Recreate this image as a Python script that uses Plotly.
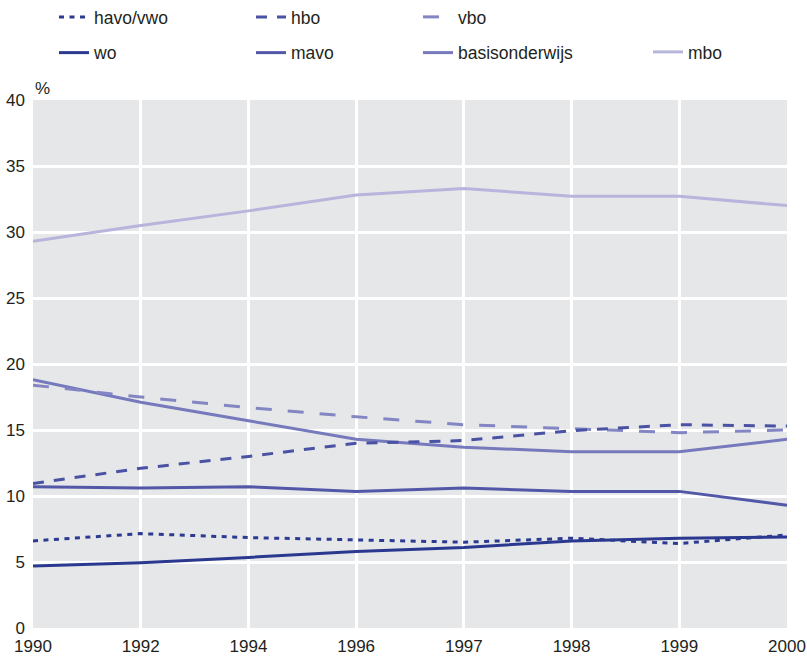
import plotly.graph_objects as go

years = ["1990", "1992", "1994", "1996", "1997", "1998", "1999", "2000"]

havo_vwo = [6.6, 7.15, 6.85, 6.65, 6.5, 6.8, 6.4, 7.05]
wo = [4.7, 4.95, 5.35, 5.8, 6.1, 6.6, 6.8, 6.9]
hbo = [10.95, 12.1, 13.0, 14.0, 14.2, 14.95, 15.4, 15.3]
mavo = [10.7, 10.6, 10.7, 10.35, 10.6, 10.35, 10.35, 9.3]
vbo = [18.4, 17.5, 16.7, 16.0, 15.4, 15.1, 14.8, 15.0]
basisonderwijs = [18.8, 17.1, 15.7, 14.3, 13.7, 13.35, 13.35, 14.3]
mbo = [29.3, 30.5, 31.6, 32.8, 33.3, 32.7, 32.7, 32.0]

y_ticks = [0, 5, 10, 15, 20, 25, 30, 35, 40]

FONT = "Liberation Sans, Arial, sans-serif"
TXT = "#231f20"

series = [
    ("havo/vwo", havo_vwo, "#2c3a90", "5px,5.5px", "legend"),
    ("wo", wo, "#2a388f", "solid", "legend"),
    ("hbo", hbo, "#4a52a4", "11px,10px", "legend2"),
    ("mavo", mavo, "#5257a8", "solid", "legend2"),
    ("vbo", vbo, "#8386c3", "16px,16px", "legend3"),
    ("basisonderwijs", basisonderwijs, "#7679bc", "solid", "legend3"),
    ("mbo", mbo, "#b7b5dc", "solid", "legend4"),
]
legend_rank = {"havo/vwo": 1, "wo": 2, "hbo": 1, "mavo": 2, "vbo": 1,
               "basisonderwijs": 2, "mbo": 1}

fig = go.Figure()
draw_order = ["mbo", "basisonderwijs", "vbo", "mavo", "hbo", "wo", "havo/vwo"]
rank = {n: i for i, n in enumerate(draw_order)}
for name, vals, color, dash, leg in sorted(series, key=lambda s: rank[s[0]]):
    fig.add_trace(go.Scatter(
        x=years, y=vals, mode="lines", name=name,
        line=dict(color=color, width=3, dash=dash),
        legend=leg, legendgroup=name, legendrank=legend_rank[name],
        showlegend=True, hoverinfo="skip",
    ))

W, H = 807, 656
ML, MT, MR, MB = 33, 100, 20, 28
plot_w = W - ML - MR
plot_h = H - MT - MB


def px_x(px):
    return (px - ML) / plot_w


def px_y(py):
    return (H - MB - py) / plot_h


leg_common = dict(
    orientation="v", traceorder="grouped", tracegroupgap=10,
    font=dict(family=FONT, size=17.5, color=TXT),
    bgcolor="rgba(0,0,0,0)", borderwidth=0,
    xanchor="left", yanchor="top", yref="paper", xref="paper",
)

fig.update_layout(
    width=W, height=H,
    margin=dict(l=ML, r=MR, t=MT, b=MB, autoexpand=False),
    paper_bgcolor="white",
    plot_bgcolor="#e6e7e9",
    font=dict(family=FONT, size=17, color=TXT),
    showlegend=True,
    legend=dict(x=px_x(54), y=px_y(-1), **leg_common),
    legend2=dict(x=px_x(251), y=px_y(-1), **leg_common),
    legend3=dict(x=px_x(418), y=px_y(-1), **leg_common),
    legend4=dict(x=px_x(648), y=px_y(34), **leg_common),
    xaxis=dict(
        type="category", categoryorder="array", categoryarray=years,
        range=[0, len(years) - 1], automargin=False,
        showgrid=True, gridcolor="white", gridwidth=3,
        zeroline=False, showline=False, ticks="",
        tickfont=dict(family=FONT, size=17, color=TXT),
        ticklabelstandoff=6,
    ),
    yaxis=dict(
        range=[0, 40], tickvals=y_ticks, automargin=False,
        showgrid=True, gridcolor="white", gridwidth=3,
        zeroline=False, showline=False, ticks="",
        tickfont=dict(family=FONT, size=17, color=TXT),
        ticklabelstandoff=7,
    ),
    annotations=[dict(
        text="%", x=0, y=1, xref="paper", yref="paper",
        xanchor="left", yanchor="bottom", showarrow=False, yshift=0,
        font=dict(family=FONT, size=17, color=TXT),
    )],
)

fig.write_html(
    "out.html",
    config={"displayModeBar": False},
    post_script="document.body.style.margin='0px';document.body.style.overflow='hidden';",
)
